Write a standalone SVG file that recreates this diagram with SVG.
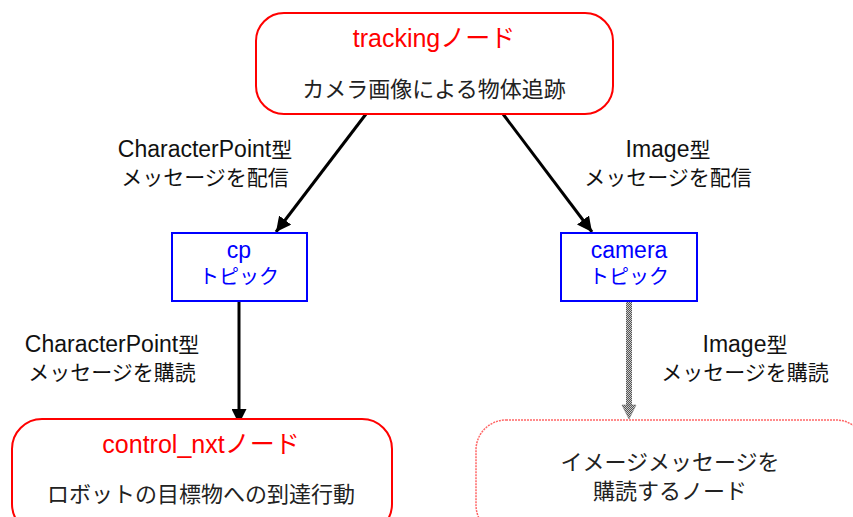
<svg xmlns="http://www.w3.org/2000/svg" width="853" height="517" viewBox="0 0 853 517">
<style>
text{font-family:"Liberation Sans","Noto Sans CJK JP",sans-serif;text-anchor:middle}
.node{fill:#fff;stroke:#f00;stroke-width:2}
.topic{fill:#fff;stroke:#00f;stroke-width:2}
.title{fill:#f00;font-size:25px}
.sub{fill:#222;font-size:22px}
.tl{fill:#00f;font-size:23px}
.tj{fill:#00f;font-size:20px}
.lbl{fill:#111;font-size:23px}
.lj{fill:#111;font-size:21px}
.conn{stroke:#000;stroke-width:3;fill:none}
</style>
<defs>
<marker id="ah" viewBox="0 0 10 10" refX="10" refY="5" markerWidth="5" markerHeight="5" orient="auto" markerUnits="strokeWidth">
<path d="M0,0 L10,5 L0,10 z" fill="#000"/>
</marker>
<pattern id="chk" width="2" height="2" patternUnits="userSpaceOnUse">
<rect width="2" height="2" fill="#555"/>
<rect width="1" height="1" fill="#ccc"/>
<rect x="1" y="1" width="1" height="1" fill="#ccc"/>
</pattern>
</defs>
<rect width="853" height="517" fill="#fff"/>
<g id="connectors">
<line class="conn" x1="366" y1="114" x2="276" y2="232" marker-end="url(#ah)"/>
<line class="conn" x1="503" y1="114" x2="592" y2="232" marker-end="url(#ah)"/>
<line class="conn" x1="239" y1="301" x2="239" y2="424" marker-end="url(#ah)"/>
<rect x="626" y="302" width="6" height="104" fill="url(#chk)"/>
<path d="M622,405 L636,405 L629,419 z" fill="url(#chk)" stroke="#666" stroke-width="0.5"/>
<text class="lbl" x="205" y="157">CharacterPoint<tspan font-size="21">型</tspan></text>
<text class="lj" x="205" y="185">メッセージを配信</text>
<text class="lbl" x="668" y="157">Image<tspan font-size="21">型</tspan></text>
<text class="lj" x="668" y="185">メッセージを配信</text>
<text class="lbl" x="112" y="352">CharacterPoint<tspan font-size="21">型</tspan></text>
<text class="lj" x="112" y="380">メッセージを購読</text>
<text class="lbl" x="745" y="352">Image<tspan font-size="21">型</tspan></text>
<text class="lj" x="745" y="380">メッセージを購読</text>
</g>
<g id="tracking">
<rect class="node" x="256" y="13" width="357" height="101" rx="28"/>
<text class="title" x="434" y="47">trackingノード</text>
<text class="sub" x="434" y="97">カメラ画像による物体追跡</text>
</g>
<g id="cp">
<rect class="topic" x="172" y="233" width="135" height="68"/>
<text class="tl" x="239" y="258">cp</text>
<text class="tj" x="239" y="284">トピック</text>
</g>
<g id="camera">
<rect class="topic" x="561" y="233" width="136" height="68"/>
<text class="tl" x="629" y="258">camera</text>
<text class="tj" x="629" y="284">トピック</text>
</g>
<g id="control_nxt">
<rect class="node" x="12" y="419" width="380" height="115" rx="30"/>
<text class="title" x="201" y="453">control_nxtノード</text>
<text class="sub" x="201" y="502">ロボットの目標物への到達行動</text>
</g>
<g id="image_subscriber">
<rect x="476" y="420" width="390" height="115" rx="30" fill="#fff" stroke="#f66" stroke-width="1.5" stroke-dasharray="2,1"/>
<text class="sub" x="670" y="470">イメージメッセージを</text>
<text class="sub" x="670" y="499">購読するノード</text>
</g>
</svg>
